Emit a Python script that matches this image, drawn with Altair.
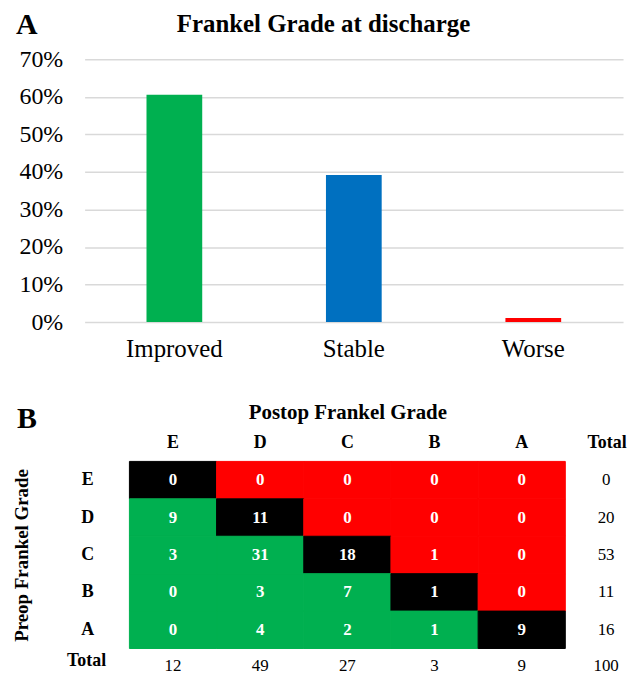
import altair as alt
import pandas as pd

# ---------- data ----------
outcomes = ["Improved", "Stable", "Worse"]
outcome_pct = [0.606, 0.392, 0.011]
outcome_colors = ["#00B050", "#0070C0", "#FF0000"]
pct_ticks = [0, 0.1, 0.2, 0.3, 0.4, 0.5, 0.6, 0.7]

grades = ["E", "D", "C", "B", "A"]
# rows: preop grade, columns: postop grade
counts = [
    [0, 0, 0, 0, 0],
    [9, 11, 0, 0, 0],
    [3, 31, 18, 1, 0],
    [0, 3, 7, 1, 0],
    [0, 4, 2, 1, 9],
]
row_totals = [0, 20, 53, 11, 16]
col_totals = [12, 49, 27, 3, 9]
grand_total = 100
status_names = ["Improved", "Stable", "Worse"]
status_colors = ["#00B050", "#000000", "#FF0000"]

FONT = "Liberation Serif"
W = 541

# ---------- panel A ----------
dfA = pd.DataFrame({"outcome": outcomes, "pct": outcome_pct})

bars = alt.Chart(dfA).mark_bar(size=56).encode(
    x=alt.X("outcome:N", sort=outcomes,
            scale=alt.Scale(paddingInner=0, paddingOuter=0),
            axis=alt.Axis(title=None, labelAngle=0, ticks=False, tickSize=0, domain=False,
                          labelFontSize=25, labelPadding=15, labelFont=FONT,
                          labelColor="black")),
    y=alt.Y("pct:Q", scale=alt.Scale(domain=[0, 0.7]),
            axis=alt.Axis(title=None, values=pct_ticks, format=".0%", ticks=False, tickSize=0,
                          domain=False, grid=True, gridColor="#D9D9D9", gridWidth=1.5,
                          labelFontSize=24, labelPadding=22, labelFont=FONT,
                          labelColor="black")),
    color=alt.Color("outcome:N", scale=alt.Scale(domain=outcomes, range=outcome_colors),
                    legend=None),
)

letterA = alt.Chart(pd.DataFrame({"label": ["A"]})).mark_text(
    align="left", baseline="alphabetic", fontSize=30, fontWeight="bold", font=FONT, color="black"
).encode(x=alt.value(-69), y=alt.value(-25), text="label:N")

titleA = alt.Chart(pd.DataFrame({"label": ["Frankel Grade at discharge"]})).mark_text(
    align="center", baseline="alphabetic", fontSize=25, fontWeight="bold", font=FONT, color="black"
).encode(x=alt.value(240), y=alt.value(-28), text="label:N")

panelA = alt.layer(bars, letterA, titleA).properties(width=W, height=264)

# ---------- panel B ----------
rows = []
for i, pre in enumerate(grades):
    for j, post in enumerate(grades):
        status = "Improved" if j < i else ("Stable" if j == i else "Worse")
        rows.append({"pre": pre, "post": post, "count": counts[i][j], "status": status})
cells = pd.DataFrame(rows)

x_enc = alt.X("post:N", sort=grades,
              scale=alt.Scale(paddingInner=0, paddingOuter=0, range=[45, 483]),
              axis=alt.Axis(orient="top", title="Postop Frankel Grade", labels=False,
                            ticks=False, domain=False, grid=False,
                            titleFont=FONT, titleFontSize=21, titleFontWeight="bold",
                            titleColor="black", titlePadding=39, titleX=264))
y_enc = alt.Y("pre:N", sort=grades, scale=alt.Scale(paddingInner=0, paddingOuter=0),
              axis=alt.Axis(title="Preop Frankel Grade", labels=False, ticks=False,
                            domain=False, grid=False,
                            titleFont=FONT, titleFontSize=19, titleFontWeight="bold",
                            titleColor="black", titlePadding=53))

status_scale = alt.Scale(domain=status_names, range=status_colors)
rects = alt.Chart(cells).mark_rect(strokeWidth=1).encode(
    x=x_enc, y=y_enc,
    color=alt.Color("status:N", scale=status_scale, legend=None),
    stroke=alt.Stroke("status:N", scale=status_scale, legend=None),
)
cell_text = alt.Chart(cells).mark_text(
    color="white", fontWeight="bold", fontSize=17, font=FONT, baseline="middle"
).encode(x=x_enc, y=y_enc, text="count:Q")

hdr = pd.DataFrame({"post": grades})
col_hdr = alt.Chart(hdr).mark_text(
    fontWeight="bold", fontSize=18, font=FONT, color="black", baseline="middle"
).encode(x=x_enc, y=alt.value(-18), text="post:N")

rlab = pd.DataFrame({"pre": grades})
row_hdr = alt.Chart(rlab).mark_text(
    fontWeight="bold", fontSize=18, font=FONT, color="black", baseline="middle"
).encode(y=y_enc, x=alt.value(3), text="pre:N")

rt = pd.DataFrame({"pre": grades, "total": row_totals})
row_tot = alt.Chart(rt).mark_text(
    fontSize=17, font=FONT, color="black", baseline="middle"
).encode(y=y_enc, x=alt.value(524), text="total:Q")

ct = pd.DataFrame({"post": grades, "total": col_totals})
col_tot = alt.Chart(ct).mark_text(
    fontSize=17, font=FONT, color="black", baseline="middle"
).encode(x=x_enc, y=alt.value(206), text="total:Q")

tot_lab = pd.DataFrame({"label": ["Total"]})
tot_hdr = alt.Chart(tot_lab).mark_text(
    fontWeight="bold", fontSize=18, font=FONT, color="black", baseline="middle"
).encode(x=alt.value(525), y=alt.value(-18), text="label:N")
tot_row_lab = alt.Chart(tot_lab).mark_text(
    fontWeight="bold", fontSize=18, font=FONT, color="black", baseline="middle"
).encode(x=alt.value(2), y=alt.value(201), text="label:N")

gt = pd.DataFrame({"total": [grand_total]})
grand = alt.Chart(gt).mark_text(
    fontSize=17, font=FONT, color="black", baseline="middle"
).encode(x=alt.value(524), y=alt.value(206), text="total:Q")

letterB = alt.Chart(pd.DataFrame({"label": ["B"]})).mark_text(
    align="left", baseline="alphabetic", fontSize=30, fontWeight="bold", font=FONT, color="black"
).encode(x=alt.value(-68), y=alt.value(-34), text="label:N")

panelB = alt.layer(rects, cell_text, col_hdr, row_hdr, row_tot, col_tot,
                   tot_hdr, tot_row_lab, grand, letterB).properties(width=W, height=188)

chart = alt.vconcat(panelA, panelB, spacing=40).resolve_scale(
    color="independent", stroke="independent"
).properties(
    padding={"left": 5, "top": 1, "right": 0, "bottom": 0}
).configure(font=FONT).configure_view(stroke=None)

chart.save("out.html", embed_options={"renderer": "svg", "actions": False})
